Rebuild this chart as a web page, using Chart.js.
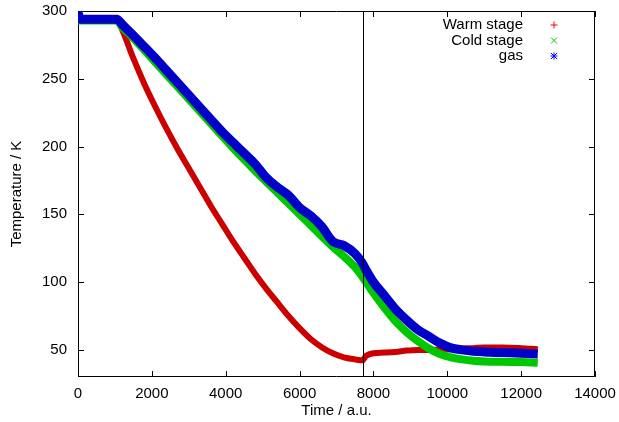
<!DOCTYPE html>
<html>
<head>
<meta charset="utf-8">
<script src="https://cdn.jsdelivr.net/npm/chart.js@4.4.1/dist/chart.umd.min.js"></script>
<style>
  html, body { margin: 0; padding: 0; background: #fff; }
</style>
</head>
<body>
<canvas id="chart-temp" width="619" height="422"></canvas>
<script>
// time axis (a.u.) shared by the three curves
const thoiGian = [0, 60, 1050, 1200, 1500, 1800, 2100, 2400, 2700, 3000, 3300, 3600, 3900, 4200, 4500,
    4800, 5100, 5400, 5700, 6000, 6300, 6600, 6900, 7200, 7500, 7700, 7800, 8000, 8300, 8600,
    8900, 9200, 9500, 9800, 10100, 10400, 10700, 11000, 11500, 12000, 12450];

const warmStage = [294, 294, 294, 286, 265, 246, 229, 213, 198, 184, 170, 156, 143, 130, 118,
    106, 95, 85, 75, 66, 58, 52, 47.5, 44.5, 43, 42.3, 45.5, 47.5, 48, 48.5,
    49.5, 50, 50, 50.3, 50.5, 51, 51.3, 51.8, 51.8, 51.3, 50.5];

const coldStage = [293, 293, 293, 288, 280, 271, 262, 253, 244, 235, 226, 217, 208, 199, 190.5,
    182, 174, 166, 158, 150, 142, 134, 126, 119, 111, 104, 100, 92, 81, 71,
    63, 56.5, 51, 47, 44.5, 43, 42, 41.5, 41.2, 41, 40.5];

const gasTemp = [299, 294, 294, 290, 282, 273.5, 265, 256, 247, 238, 229, 220, 211, 203, 195,
    187, 177, 170, 164, 155, 149, 141, 130, 127, 121, 114, 109, 100, 90, 80,
    72, 65, 60, 55, 51.5, 50, 49, 48.5, 48, 47.5, 47];

const xTicks = [0, 2000, 4000, 6000, 8000, 10000, 12000, 14000];
const yTicks = [50, 100, 150, 200, 250, 300];
const markerTime = 7730; // vertical line

const FONT = '"Liberation Sans", Arial, sans-serif';

function toPoints(vals) {
    return thoiGian.map((t, i) => ({ x: t, y: vals[i] }));
}

// border, inward ticks and the vertical marker line, gnuplot style
const framePlugin = {
    id: 'frame',
    beforeDatasetsDraw(chart) {
        const { ctx, chartArea: a, scales: { x, y } } = chart;
        ctx.save();
        ctx.strokeStyle = '#000';
        ctx.lineWidth = 1;
        ctx.beginPath();
        ctx.rect(a.left + 0.5, a.top + 0.5, a.right - a.left - 1, a.bottom - a.top - 1);
        x.ticks.forEach(t => {
            const px = Math.round(x.getPixelForValue(t.value)) + 0.5;
            ctx.moveTo(px, a.bottom); ctx.lineTo(px, a.bottom - 6);
            ctx.moveTo(px, a.top); ctx.lineTo(px, a.top + 6);
        });
        y.ticks.forEach(t => {
            const py = Math.round(y.getPixelForValue(t.value)) + 0.5;
            ctx.moveTo(a.left, py); ctx.lineTo(a.left + 6, py);
            ctx.moveTo(a.right, py); ctx.lineTo(a.right - 6, py);
        });
        ctx.stroke();
        ctx.restore();
    },
    afterDatasetsDraw(chart) {
        const { ctx, chartArea: a, scales: { x } } = chart;
        const px = Math.round(x.getPixelForValue(markerTime)) + 0.5;
        ctx.save();
        ctx.strokeStyle = '#000';
        ctx.lineWidth = 1;
        ctx.beginPath();
        ctx.moveTo(px, a.top);
        ctx.lineTo(px, a.bottom);
        ctx.stroke();
        ctx.restore();
    }
};

// key in the top right corner: text right aligned, marker after it
const keyPlugin = {
    id: 'gnuKey',
    afterDraw(chart) {
        const { ctx, chartArea: a } = chart;
        const marks = ['plus', 'cross', 'star'];
        ctx.save();
        ctx.font = '15px ' + FONT;
        ctx.textAlign = 'right';
        ctx.textBaseline = 'middle';
        chart.data.datasets.forEach((ds, i) => {
            const yy = a.top + 14 + i * 15.5;
            ctx.fillStyle = '#000';
            ctx.fillText(ds.label, a.right - 72, yy);
            const mx = a.right - 41;
            const r = 3.5;
            ctx.strokeStyle = ds.keyColor;
            ctx.lineWidth = 1;
            ctx.beginPath();
            if (marks[i] !== 'cross') {
                ctx.moveTo(mx - r, yy); ctx.lineTo(mx + r, yy);
                ctx.moveTo(mx, yy - r); ctx.lineTo(mx, yy + r);
            }
            if (marks[i] !== 'plus') {
                ctx.moveTo(mx - 3, yy - 3); ctx.lineTo(mx + 3, yy + 3);
                ctx.moveTo(mx - 3, yy + 3); ctx.lineTo(mx + 3, yy - 3);
            }
            ctx.stroke();
        });
        ctx.restore();
    }
};

const ctx = document.getElementById('chart-temp');
new Chart(ctx, {
    type: 'line',
    data: {
        datasets: [
            {
                label: 'Warm stage',
                data: toPoints(warmStage),
                borderColor: '#cc0000',
                keyColor: '#ff0000',
                borderWidth: 6,
                order: 3
            },
            {
                label: 'Cold stage',
                data: toPoints(coldStage),
                borderColor: '#00c800',
                keyColor: '#00c800',
                borderWidth: 8,
                order: 2
            },
            {
                label: 'gas',
                data: toPoints(gasTemp),
                borderColor: '#0000c8',
                keyColor: '#0000ff',
                borderWidth: 9,
                order: 1
            }
        ]
    },
    options: {
        responsive: false,
        animation: false,
        events: [],
        layout: { padding: { left: 0, right: 24, top: 11, bottom: 0 } },
        elements: {
            point: { radius: 0 },
            line: { cubicInterpolationMode: 'monotone', fill: false }
        },
        scales: {
            x: {
                type: 'linear',
                min: 0,
                max: 14000,
                afterBuildTicks: s => { s.ticks = xTicks.map(v => ({ value: v })); },
                afterFit: s => { s.height = 45; s.paddingLeft = 0; s.paddingRight = 0; },
                grid: { display: false, drawTicks: false },
                border: { display: false },
                ticks: {
                    color: '#000',
                    font: { family: FONT, size: 15 },
                    padding: 8,
                    maxRotation: 0,
                    callback: v => String(v)
                },
                title: {
                    display: true,
                    text: 'Time / a.u.',
                    color: '#000',
                    font: { family: FONT, size: 15 },
                    padding: { top: 0, bottom: 2 }
                }
            },
            y: {
                type: 'linear',
                min: 30,
                max: 300,
                afterBuildTicks: s => { s.ticks = yTicks.map(v => ({ value: v })); },
                afterFit: s => { s.width = 78; s.paddingTop = 0; s.paddingBottom = 0; },
                grid: { display: false, drawTicks: false },
                border: { display: false },
                ticks: {
                    color: '#000',
                    font: { family: FONT, size: 15 },
                    padding: 11,
                    callback: v => String(v)
                },
                title: {
                    display: true,
                    text: 'Temperature / K',
                    color: '#000',
                    font: { family: FONT, size: 15 },
                    padding: { top: 8, bottom: 0 }
                }
            }
        },
        plugins: {
            legend: { display: false },
            tooltip: { enabled: false }
        }
    },
    plugins: [framePlugin, keyPlugin]
});
</script>
</body>
</html>
